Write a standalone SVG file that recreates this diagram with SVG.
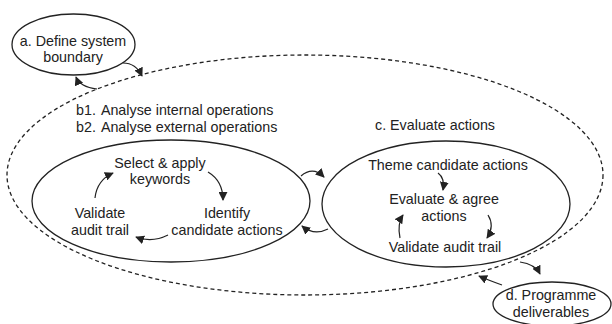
<svg xmlns="http://www.w3.org/2000/svg" width="612" height="324" viewBox="0 0 612 324">
<defs>
<style>
.node{fill:#fff;stroke:#222;stroke-width:1.3}
.dash{fill:none;stroke:#222;stroke-width:1.3;stroke-dasharray:4 3}
.t{font-family:"Liberation Sans",Arial,sans-serif;font-size:14.3px;fill:#222;text-anchor:middle}
.ts{font-family:"Liberation Sans",Arial,sans-serif;font-size:14.3px;fill:#222}
.c{fill:none;stroke:#222;stroke-width:1.2;marker-end:url(#ah)}
</style>
<marker id="ah" markerUnits="userSpaceOnUse" markerWidth="9" markerHeight="9" viewBox="0 0 10 10" refX="9" refY="5" orient="auto">
<path d="M0,0 L10,5 L0,10 Z" fill="#222"/>
</marker>
</defs>
<rect width="612" height="324" fill="#fff"/>
<g id="boundary">
<ellipse class="dash" cx="305" cy="175" rx="298" ry="120"/>
</g>
<g id="a">
<ellipse class="node" cx="73.5" cy="44.5" rx="61.5" ry="30.5"/>
<text class="t" x="73" y="46">a. Define system</text>
<text class="t" x="73" y="62">boundary</text>
</g>
<g id="b">
<text class="ts" x="76" y="115">b1.<tspan dx="5">Analyse internal operations</tspan></text>
<text class="ts" x="76" y="132">b2.<tspan dx="5">Analyse external operations</tspan></text>
<ellipse class="node" cx="171" cy="201" rx="139" ry="61"/>
<text class="t" x="160" y="168">Select &amp; apply</text>
<text class="t" x="160" y="184">keywords</text>
<text class="t" x="100" y="218">Validate</text>
<text class="t" x="100" y="235">audit trail</text>
<text class="t" x="227" y="218">Identify</text>
<text class="t" x="227" y="235">candidate actions</text>
</g>
<g id="c">
<text class="t" x="435" y="130">c. Evaluate actions</text>
<ellipse class="node" cx="446" cy="204" rx="124" ry="63"/>
<text class="t" x="448" y="170">Theme candidate actions</text>
<text class="t" x="444" y="204">Evaluate &amp; agree</text>
<text class="t" x="444" y="221">actions</text>
<text class="t" x="445" y="252">Validate audit trail</text>
</g>
<g id="d">
<ellipse class="node" cx="552" cy="304" rx="59" ry="22"/>
<text class="t" x="551" y="300">d. Programme</text>
<text class="t" x="551" y="317">deliverables</text>
</g>
<g id="connectors">
<path class="c" d="M123,63 Q136,63 142,76"/>
<path class="c" d="M97,89 Q80,87 76,77"/>
<path class="c" d="M301,176 Q313,166 324,177"/>
<path class="c" d="M328,229 Q314,236 302,226"/>
<path class="c" d="M95,198 Q97,180 113,173"/>
<path class="c" d="M208,172 Q223,181 223,200"/>
<path class="c" d="M168,235 Q152,243 136,237"/>
<path class="c" d="M438,173 Q445,178 443,190"/>
<path class="c" d="M488,215 Q495,226 487,238"/>
<path class="c" d="M400,238 Q397,224 403,215"/>
<path class="c" d="M520,262 Q535,264 540,274"/>
<path class="c" d="M502,285 Q488,280 479,276"/>
</g>
</svg>
